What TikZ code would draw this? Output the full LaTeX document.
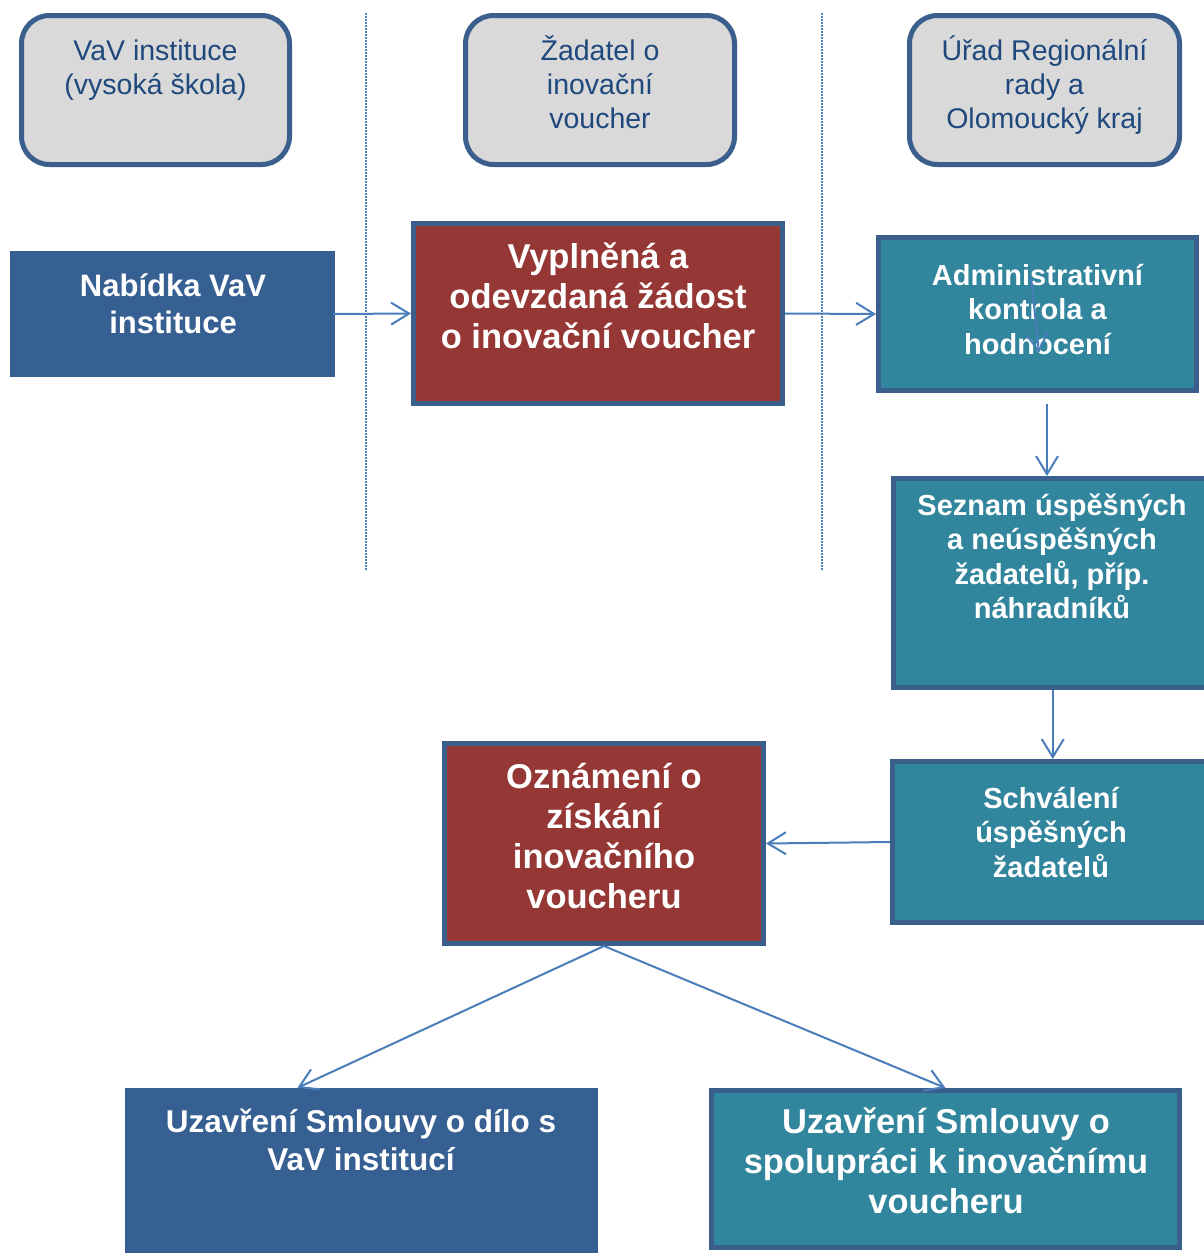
\documentclass[tikz,border=0pt]{standalone}
\usepackage{fontspec}
\setmainfont{Liberation Sans}
\usetikzlibrary{arrows.meta}
\definecolor{hdrfill}{HTML}{D9D9D9}
\definecolor{edgec}{HTML}{3A5F8C}
\definecolor{hdrtext}{HTML}{1F497D}
\definecolor{bluefill}{HTML}{376092}
\definecolor{redfill}{HTML}{953735}
\definecolor{tealfill}{HTML}{31859C}
\definecolor{arrowc}{HTML}{4A7EBB}
\definecolor{dotc}{HTML}{4F81BD}
\newcommand{\fl}{\rule{0pt}{33pt}}
\begin{document}
\begin{tikzpicture}[x=1pt,y=-1pt,
  hdr/.style={draw=edgec, line width=5pt, fill=hdrfill, rounded corners=28pt, inner sep=0pt},
  bluebox/.style={fill=bluefill, inner sep=0pt},
  redbox/.style={draw=edgec, line width=5pt, fill=redfill, inner sep=0pt},
  tealbox/.style={draw=edgec, line width=5pt, fill=tealfill, inner sep=0pt},
  txt/.style={anchor=north, inner sep=0pt, align=center, text=white},
  hdrtxt/.style={txt, text=hdrtext, font=\fontsize{28.5pt}{34pt}\selectfont},
  bigtxt/.style={txt, font=\bfseries\fontsize{34.5pt}{40pt}\selectfont},
  midtxt/.style={txt, font=\bfseries\fontsize{31pt}{37pt}\selectfont},
  smalltxt/.style={txt, font=\bfseries\fontsize{29pt}{34.5pt}\selectfont},
  arr/.style={draw=arrowc, line width=2pt, -{Straight Barb[length=18pt,width=22pt,line width=2pt]}},
  sep/.style={draw=dotc, line width=1.5pt, dash pattern=on 1.5pt off 1.5pt}
]
\clip (0,0) rectangle (1204,1253);
\fill[white] (0,0) rectangle (1204,1253);

% lane separators
\coordinate (d1t) at (366,13);
\coordinate (d1b) at (366,570);
\coordinate (d2t) at (822,13);
\coordinate (d2b) at (822,570);
\draw[sep] (d1t) -- (d1b);
\draw[sep] (d2t) -- (d2b);

% headers
\node[hdr, minimum width=268pt, minimum height=149pt] (h1) at (155.5,90) {};
\node[hdr, minimum width=269pt, minimum height=149pt] (h2) at (600,90) {};
\node[hdr, minimum width=270pt, minimum height=149pt] (h3) at (1044.5,90) {};
\node[hdrtxt] (h1t) at (155.5,27) {\fl VaV instituce\\(vysoká škola)};
\node[hdrtxt] (h2t) at (600,27) {\fl Žadatel o\\inovační\\voucher};
\node[hdrtxt] (h3t) at (1044.5,27) {\fl Úřad Regionální\\rady a\\Olomoucký kraj};

% process boxes
\node[bluebox, minimum width=325pt, minimum height=126pt] (nab) at (172.5,314) {};
\node[midtxt] (nabt) at (173,263) {\fl Nabídka VaV\\instituce};

\node[redbox, minimum width=369pt, minimum height=180pt] (vyp) at (598,313.5) {};
\node[bigtxt] (vypt) at (598,235) {\fl Vyplněná a\\odevzdaná žádost\\o inovační voucher};

\node[tealbox, minimum width=318pt, minimum height=153pt] (adm) at (1037.5,314) {};
\node[smalltxt] (admt) at (1037.5,252) {\fl Administrativní\\kontrola a\\hodnocení};

\node[tealbox, minimum width=318.5pt, minimum height=209pt] (sez) at (1052.75,583) {};
\node[smalltxt] (sezt) at (1052,482) {\fl Seznam úspěšných\\a neúspěšných\\žadatelů, příp.\\náhradníků};

\node[tealbox, minimum width=319.5pt, minimum height=161pt] (sch) at (1052.25,842) {};
\node[smalltxt] (scht) at (1051,775) {\fl Schválení\\úspěšných\\žadatelů};

\node[redbox, minimum width=319pt, minimum height=200pt] (ozn) at (604,843.5) {};
\node[bigtxt] (oznt) at (604,755) {\fl Oznámení o\\získání\\inovačního\\voucheru};

\node[bluebox, minimum width=473pt, minimum height=172pt] (bl) at (361.5,1174) {};
\node[txt, font=\bfseries\fontsize{31.5pt}{38.5pt}\selectfont] (blt) at (361,1099) {\fl Uzavření Smlouvy o dílo s\\VaV institucí};

\node[tealbox, minimum width=468pt, minimum height=157pt] (br) at (945.5,1169) {};
\node[bigtxt] (brt) at (946,1100) {\fl Uzavření Smlouvy o\\spolupráci k inovačnímu\\voucheru};

% connectors
\draw[arr] ([xshift=-2pt]nab.east) -- (vyp.west);
\draw[arr] (vyp.east) -- (adm.west);
\coordinate (ai1) at (1031,277);
\coordinate (ai2) at (1039,353);
\draw[arr] (ai1) -- (ai2);
\coordinate (s1) at (1047,404);
\draw[arr] (s1) -- (s1 |- sez.north);
\draw[arr] (sez.south) -- (sez.south |- sch.north);
\draw[arr] (sch.west) -- (ozn.east);
\coordinate (blin) at ([xshift=-64pt]bl.north);
\draw[arr] (ozn.south) -- (blin);
\draw[arr] (ozn.south) -- (br.north);
\end{tikzpicture}
\end{document}
